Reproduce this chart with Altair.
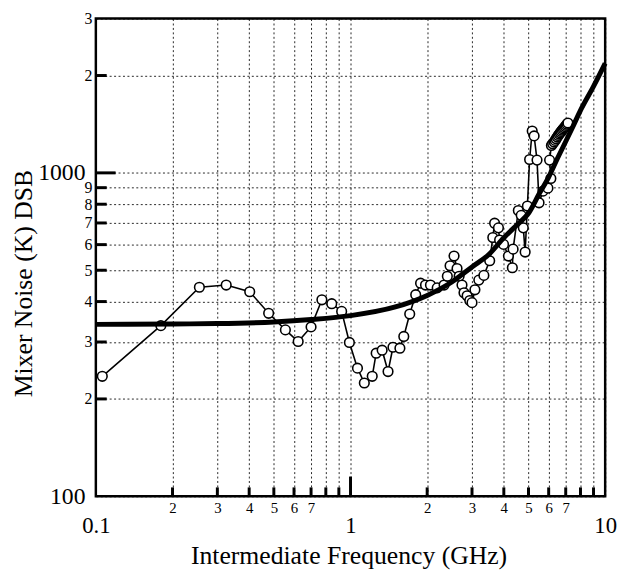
import altair as alt
import pandas as pd

# Measured data points (frequency GHz, mixer noise K DSB), in sweep order
freq = [0.106, 0.180, 0.255, 0.325, 0.402, 0.477, 0.555, 0.623, 0.700, 0.772,
        0.844, 0.923, 0.99, 1.065, 1.133, 1.217, 1.261, 1.331, 1.404, 1.468,
        1.563, 1.619, 1.708, 1.803, 1.884, 1.970, 2.06, 2.19, 2.33, 2.40,
        2.46, 2.55, 2.62, 2.67, 2.74, 2.79, 2.87, 2.94, 3.00, 3.08,
        3.19, 3.34, 3.52, 3.62, 3.68, 3.81, 3.85, 3.99, 4.17, 4.32,
        4.35, 4.56, 4.68, 4.77, 4.85, 4.95, 5.05, 5.17, 5.26, 5.40,
        5.50, 5.70, 5.96, 6.12, 6.05, 6.15, 6.22, 6.30, 6.36, 6.42,
        6.48, 6.54, 6.60, 6.66, 6.72, 6.78, 6.84, 6.90, 6.96, 7.02,
        7.08, 7.14]
noise = [235, 337, 443, 450, 429, 368, 327, 301, 334, 405,
         394, 373, 299, 249, 224, 235, 277, 283, 243, 289,
         287, 312, 366, 420, 456, 450, 450, 441, 450, 479,
         516, 553, 506, 479, 450, 426, 417, 403, 397, 435,
         466, 482, 535, 631, 699, 676, 620, 601, 553, 509,
         581, 765, 739, 676, 569, 790, 1100, 1347, 1301, 1095,
         808, 878, 897, 961, 1095, 1215, 1230, 1245, 1260, 1275,
         1290, 1305, 1318, 1330, 1343, 1355, 1366, 1378, 1390, 1402,
         1414, 1426]

# Thick smooth curve
fit_freq = [0.1, 0.2, 0.3, 0.5, 0.7, 1.0, 1.5, 2.0, 2.5, 3.0, 3.5, 4.0, 4.5,
            5.0, 5.5, 6.0, 6.5, 7.0, 7.5, 8.0, 9.0, 10.0]
fit_noise = [340, 341, 342, 346, 352, 362, 385, 418, 460, 512, 560, 630, 690,
             750, 860, 970, 1110, 1250, 1400, 1560, 1850, 2180]

x_tick_values = [0.1, 0.2, 0.3, 0.4, 0.5, 0.6, 0.7, 0.8, 0.9,
                 1, 2, 3, 4, 5, 6, 7, 8, 9, 10]
y_tick_values = [100, 200, 300, 400, 500, 600, 700, 800, 900, 1000, 2000, 3000]
x_minor_ticks = [0.2, 0.3, 0.4, 0.5, 0.6, 0.7, 0.8, 0.9, 2, 3, 4, 5, 6, 7, 8, 9]
x_major_ticks = [1]
y_minor_ticks = [200, 300, 400, 500, 600, 700, 800, 900, 2000]
y_major_ticks = [1000]

FONT = "Liberation Serif"
W, H = 516, 484

pts = pd.DataFrame({"f": freq, "t": noise, "i": list(range(len(freq)))})
fit = pd.DataFrame({"f": fit_freq, "t": fit_noise})
xmin_df = pd.DataFrame({"xv": x_minor_ticks})
xmaj_df = pd.DataFrame({"xv": x_major_ticks})
ymin_df = pd.DataFrame({"yv": y_minor_ticks})
ymaj_df = pd.DataFrame({"yv": y_major_ticks})

xscale = alt.Scale(type="log", domain=[0.1, 10], nice=False)
yscale = alt.Scale(type="log", domain=[100, 3000], nice=False)

XMAJ = "datum.value < 0.15 || (datum.value > 0.95 && datum.value < 1.5) || datum.value > 9.5"
YMAJ = "datum.value < 150 || (datum.value > 950 && datum.value < 1500)"

x_axis = alt.Axis(
    values=x_tick_values, grid=True, gridColor="black", gridDash=[2, 2.5],
    gridWidth=1, gridOpacity=0.85, ticks=False, domain=False,
    labelExpr=("datum.value < 0.15 ? '0.1' : datum.value < 0.75 ? format(datum.value*10, '.0f') : "
               "datum.value < 0.95 ? '' : datum.value < 1.5 ? '1' : datum.value < 7.5 ? "
               "format(datum.value, '.0f') : datum.value < 9.5 ? '' : '10'"),
    labelFont=FONT, labelColor="black", labelFlush=False, labelOverlap=False, labelBound=False,
    labelFontSize={"condition": {"test": XMAJ, "value": 23}, "value": 15},
    labelPadding={"condition": {"test": XMAJ, "value": 19}, "value": 4},
    title="Intermediate Frequency (GHz)", titleFont=FONT, titleFontSize=26,
    titleFontWeight="normal", titleColor="black", titleX=256, titleY=68,
    titleBaseline="alphabetic", titleAlign="center",
)

y_axis = alt.Axis(
    values=y_tick_values, grid=True, gridColor="black", gridDash=[2, 2.5],
    gridWidth=1, gridOpacity=0.85, ticks=False, domain=False,
    labelExpr=("datum.value < 150 ? '100' : datum.value < 950 ? format(datum.value/100, '.0f') : "
               "datum.value < 1500 ? '1000' : format(datum.value/1000, '.0f')"),
    labelFont=FONT, labelColor="black", labelFlush=False, labelOverlap=False, labelBound=False,
    labelFontSize={"condition": {"test": YMAJ, "value": 24}, "value": 16},
    labelPadding={"condition": {"test": YMAJ, "value": 11}, "value": 4},
    title="Mixer Noise (K) DSB", titleFont=FONT, titleFontSize=26,
    titleFontWeight="normal", titleColor="black", titleX=-65, titleY=268,
    titleBaseline="alphabetic", titleAlign="center", titleAngle=-90,
)


def X(field):
    return alt.X(field, scale=xscale, axis=x_axis)


def Y(field):
    return alt.Y(field, scale=yscale, axis=y_axis)


thin = alt.Chart(pts).mark_line(color="black", strokeWidth=1.6).encode(
    x=X("f:Q"), y=Y("t:Q"), order="i:Q")
circles = alt.Chart(pts).mark_point(shape="circle", filled=True, fill="white",
                                    stroke="black", strokeWidth=1.6, size=95, opacity=1).encode(
    x=X("f:Q"), y=Y("t:Q"))
curve = alt.Chart(fit).mark_line(color="black", strokeWidth=5, interpolate="monotone").encode(
    x=X("f:Q"), y=Y("t:Q"))

xt_minor = alt.Chart(xmin_df).mark_rule(color="black", strokeWidth=3).encode(
    x=X("xv:Q"), y=alt.value(H), y2=alt.value(H - 9))
xt_major = alt.Chart(xmaj_df).mark_rule(color="black", strokeWidth=3).encode(
    x=X("xv:Q"), y=alt.value(H), y2=alt.value(H - 20))
yt_minor = alt.Chart(ymin_df).mark_rule(color="black", strokeWidth=3).encode(
    y=Y("yv:Q"), x=alt.value(0), x2=alt.value(11))
yt_major = alt.Chart(ymaj_df).mark_rule(color="black", strokeWidth=3).encode(
    y=Y("yv:Q"), x=alt.value(0), x2=alt.value(20))

chart = alt.layer(thin, circles, curve, xt_minor, xt_major, yt_minor, yt_major).properties(
    width=W, height=H,
    autosize=alt.AutoSizeParams(type="none"),
    padding={"left": 89, "top": 7, "right": 13, "bottom": 73},
    background="white",
).configure_view(stroke="black", strokeWidth=2.5)

chart.save("out.html", embed_options={"renderer": "svg", "actions": False})
